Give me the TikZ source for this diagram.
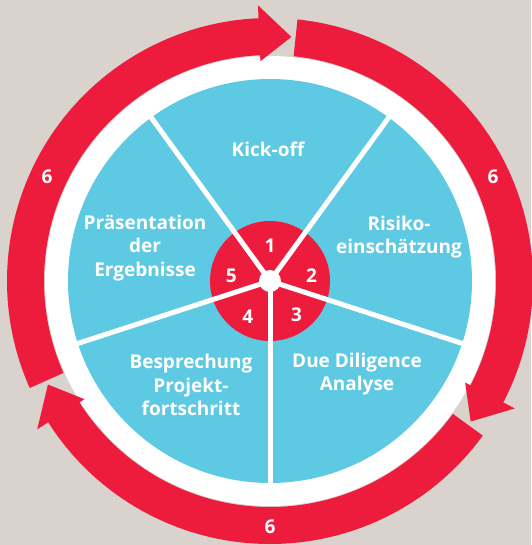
\documentclass[tikz,border=0pt]{standalone}
\usepackage{fontspec}
\setmainfont{Open Sans}
\definecolor{ringred}{HTML}{EE1C3C}
\definecolor{wheelblue}{HTML}{5EC9E3}
\definecolor{paper}{HTML}{D9D2CD}
\tikzset{
  phase/.style={text=white, font=\bfseries\fontsize{19}{23.5}\selectfont, align=center, inner sep=0pt},
  spoke/.style={draw=white, line width=5pt},
  cycle arrow/.style={fill=ringred},
  hub dot/.style={circle, fill=white, minimum size=22pt, inner sep=0pt},
}
\begin{document}
\begin{tikzpicture}[x=1pt,y=1pt]
    \fill[paper] (-270,-264) rectangle (261,281);
    \useasboundingbox (-270,-264) rectangle (261,281);

    \coordinate (c) at (0,0);
    \fill[white] (c) circle (225);
    \fill[wheelblue] (c) circle (202);

    \foreach \t in {204,84,-36} {
        \fill[cycle arrow] (\t:263) arc[start angle=\t, end angle={\t-111.5}, radius=263]
            -- ({\t-111.5}:276) -- ({\t-119}:245) -- ({\t-111.5}:220) -- ({\t-111.5}:226)
            arc[start angle={\t-111.5}, end angle=\t, radius=226] -- cycle;
    }

    \node[circle, fill=ringred, minimum size=120pt, inner sep=0pt] (core) at (c) {};
    \foreach \a [count=\i] in {126,54,-18,-90,198} {
        \coordinate (rim\i) at (\a:203);
        \draw[spoke] (c) -- (rim\i);
    }
    \node[hub dot] (hub) at (c) {};

    \node[phase] (n1) at (90:35) {1};
    \node[phase] (n2) at (8:42) {2};
    \node[phase] (n3) at (-52:43) {3};
    \node[phase] (n4) at (238:42) {4};
    \node[phase] (n5) at (172:39) {5};

    \node[phase] (kickoff) at (-2,132) {Kick-off};
    \node[phase] (risiko) at (129,44) {Risiko-\\einschätzung};
    \node[phase] (diligence) at (87,-93) {Due Diligence\\Analyse};
    \node[phase] (besprechung) at (-79,-104) {Besprechung\\Projekt-\\fortschritt};
    \node[phase] (praesentation) at (-125,33) {Präsentation\\der\\Ergebnisse};

    \node[phase] (loop1) at (-223,104) {6};
    \node[phase] (loop2) at (223,104) {6};
    \node[phase] (loop3) at (0,-246) {6};
\end{tikzpicture}
\end{document}
